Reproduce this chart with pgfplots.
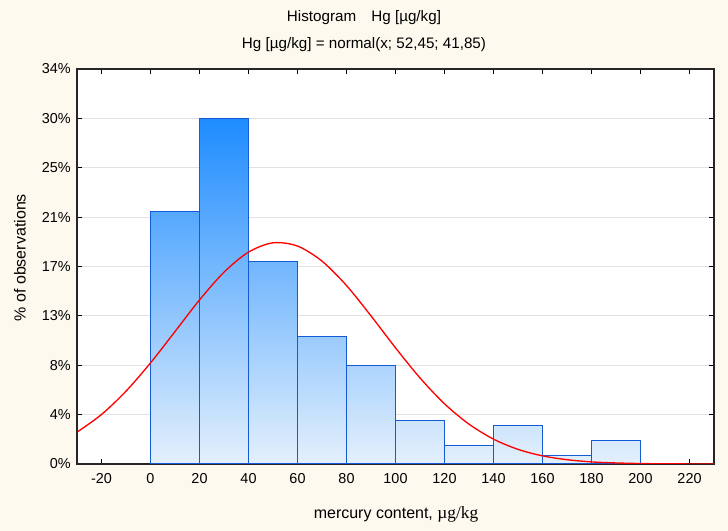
\documentclass[border=0pt]{standalone}
\usepackage{pgfplots}
\pgfplotsset{compat=1.18}
\usepackage{fontspec}
\setmainfont{Liberation Sans}
\newfontfamily\timesf{Liberation Serif}

\definecolor{bg}{RGB}{253,249,239}
\definecolor{bardark}{RGB}{30,140,255}
\definecolor{barlight}{RGB}{228,240,252}
\definecolor{baredge}{RGB}{20,90,215}
\definecolor{gridc}{RGB}{226,226,226}

% one bar = one plot, so the gradient follows the bar height (t = height/30)
\newcommand{\histbar}[4]{%
  \addplot[ybar interval, draw=baredge, line width=0.8pt,
    top color=bardark!#4!barlight, bottom color=barlight]
    coordinates {(#1,#3) (#2,#3)};}

\begin{document}
\fontsize{10.8}{13}\selectfont
\begin{tikzpicture}
\fill[bg] (0,0) rectangle (546pt,398.25pt);
\begin{axis}[
    at={(57.75pt,50.25pt)}, anchor=south west,
    scale only axis, width=477.75pt, height=296.25pt,
    xmin=-30, xmax=230, ymin=0, ymax=34,
    xtick={-20,0,20,40,60,80,100,120,140,160,180,200,220},
    ytick={0,4.25,8.5,12.75,17,21.25,25.5,29.75,34},
    yticklabels={0\%,4\%,8\%,13\%,17\%,21\%,25\%,30\%,34\%},
    tick align=inside, major tick length=4pt,
    tick style={black, line width=0.8pt},
    ymajorgrids, grid style={gridc, line width=0.8pt},
    axis line style={line width=1pt, black!85},
    axis background/.style={fill=white},
    /pgf/number format/assume math mode=true,
    xticklabel style={yshift=-3.5pt},
    yticklabel style={xshift=-1pt},
    clip=true,
]
\histbar{0}{20}{21.7}{72}
\histbar{20}{40}{29.75}{100}
\histbar{40}{60}{17.4}{58}
\histbar{60}{80}{10.96}{37}
\histbar{80}{100}{8.44}{28}
\histbar{100}{120}{3.73}{12}
\histbar{120}{140}{1.58}{5}
\histbar{140}{160}{3.33}{11}
\histbar{160}{180}{0.75}{3}
\histbar{180}{200}{2.04}{7}

% fitted normal curve
\addplot[red, line width=1pt, smooth] coordinates {
  (-30,2.74) (-20,4.26) (-10,6.27) (0,8.70) (10,11.40) (20,14.12)
  (30,16.51) (40,18.24) (50,19.04) (60,18.76) (70,17.46) (80,15.36)
  (90,12.75) (100,10.00) (110,7.41) (120,5.18) (130,3.43) (140,2.14)
  (150,1.26) (160,0.70) (170,0.37) (180,0.18) (190,0.09) (200,0.04)
  (210,0.015) (220,0.006) (230,0.002)
};
\end{axis}
\begin{scope}[font=\fontsize{11.4}{14}\selectfont]
\node at (273pt,384.75pt) {Histogram\quad Hg [µg/kg]};
\node at (273pt,364.5pt) {Hg [µg/kg] = normal(x; 52,45; 41,85)};
\end{scope}
\begin{scope}[font=\fontsize{12}{14}\selectfont]
\node at (297pt,12.75pt) {mercury content, {\timesf\fontsize{13}{14}\selectfont µg/kg}};
\node[rotate=90] at (15pt,205pt) {\% of observations};
\end{scope}
\pgfresetboundingbox
\path[use as bounding box] (0,0) rectangle (546pt,398.25pt);
\end{tikzpicture}
\end{document}
